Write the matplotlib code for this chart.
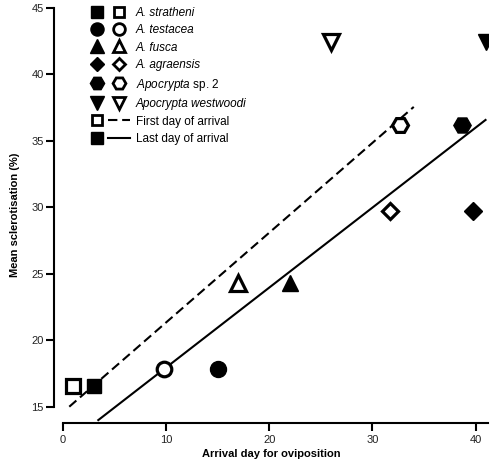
import matplotlib
matplotlib.use("Agg")
import matplotlib.pyplot as plt
from matplotlib.lines import Line2D
from matplotlib.legend_handler import HandlerTuple

plt.rcParams['font.family'] = ['Liberation Sans', 'DejaVu Sans']
plt.rcParams['mathtext.fontset'] = 'custom'
plt.rcParams['mathtext.rm'] = 'Liberation Sans'
plt.rcParams['mathtext.it'] = 'Liberation Sans:italic'
plt.rcParams['mathtext.bf'] = 'Liberation Sans:bold'

# ---- data ----
species = ["A. stratheni", "A. testacea", "A. fusca",
           "A. agraensis", r"$\it{Apocrypta}$ sp. 2", "Apocrypta westwoodi"]
italic_label = [True, True, True, True, False, True]
first_day = [1.0, 9.8, 17.0, 31.7, 32.7, 26.0]
last_day = [3.0, 15.0, 22.0, 39.7, 38.7, 41.0]
sclerotisation = [16.55, 17.85, 24.3, 29.75, 36.2, 42.4]
markers = ['s', 'o', '^', 'D', 'H', 'v']
msizes = [10.5, 11.5, 12, 9, 12.5, 12]

# regression lines: (x start, x end, intercept, slope)
first_fit_x = [0.64, 34.0]
first_fit = (14.57, 0.676)
last_fit_x = [3.45, 40.95]
last_fit = (11.92, 0.602)

fig = plt.figure(figsize=(4.99, 4.73), dpi=100)
ax = fig.add_axes([54.3/499, 1-422.7/473, (487.7-54.3)/499, (422.7-7.9)/473])

lw = 1.5
mew_open = 2.3
yf = [first_fit[0] + first_fit[1]*x for x in first_fit_x]
yl = [last_fit[0] + last_fit[1]*x for x in last_fit_x]
ax.plot(first_fit_x, yf, color='black', lw=lw, dashes=(4.5, 2.3), zorder=1)
ax.plot(last_fit_x, yl, color='black', lw=lw, zorder=1)

handles = []
lscale = 0.82
for sp, xf, xl, y, m, ms in zip(species, first_day, last_day, sclerotisation, markers, msizes):
    ax.plot([xl], [y], linestyle='none', marker=m, ms=ms, mfc='black', mec='black', mew=1.0, zorder=3)
    ax.plot([xf], [y], linestyle='none', marker=m, ms=ms - 1.0, mfc='white', mec='black',
            mew=mew_open, zorder=3)
    hf = Line2D([], [], linestyle='none', marker=m, ms=ms*lscale, mfc='black', mec='black', mew=1.0)
    ho = Line2D([], [], linestyle='none', marker=m, ms=ms*lscale - 1.0, mfc='white', mec='black', mew=2.0)
    handles.append((hf, ho))

h_first = (Line2D([], [], linestyle='none', marker='s', ms=7.6, mfc='white', mec='black', mew=2.0),
           Line2D([], [], color='black', lw=lw, dashes=(4.5, 2.3)))
h_last = (Line2D([], [], linestyle='none', marker='s', ms=8.6, mfc='black', mec='black', mew=1.0),
          Line2D([], [], color='black', lw=lw))
handles += [h_first, h_last]
labels = species + ["First day of arrival", "Last day of arrival"]

leg = ax.legend(handles, labels, handler_map={tuple: HandlerTuple(ndivide=None, pad=0)},
                loc='upper left', bbox_to_anchor=(86/499, 1-7/473), bbox_transform=fig.transFigure,
                frameon=False, fontsize=8.5, handlelength=3.75, handletextpad=0.45,
                labelspacing=0.46, borderpad=0, borderaxespad=0, handleheight=0.9)
for t, it in zip(leg.get_texts(), italic_label + [False, False]):
    if it:
        t.set_fontstyle('italic')

xmin, xmax = -0.81, 41.16
ax.set_xlim(xmin, xmax)
ax.set_ylim(13.8, 45)
ax.spines['top'].set_visible(False)
ax.spines['right'].set_visible(False)
ax.spines['left'].set_bounds(15, 45)
ax.spines['bottom'].set_bounds(0, xmax)
for s in ['left', 'bottom']:
    ax.spines[s].set_linewidth(1.5)
ax.set_xticks([0, 10, 20, 30, 40])
ax.set_yticks([15, 20, 25, 30, 35, 40, 45])
ax.tick_params(direction='out', length=5.5, width=1.5, labelsize=8, colors='black')
ax.tick_params(axis='both', labelcolor='#222222')
ax.tick_params(axis='y', pad=2)
ax.tick_params(axis='x', pad=3.5)
ax.set_xlabel("Arrival day for oviposition", fontsize=8, fontweight='bold', labelpad=3)
ax.set_ylabel("Mean sclerotisation (%)", fontsize=8, fontweight='bold', labelpad=8)

fig.savefig("out.png", dpi=100)
